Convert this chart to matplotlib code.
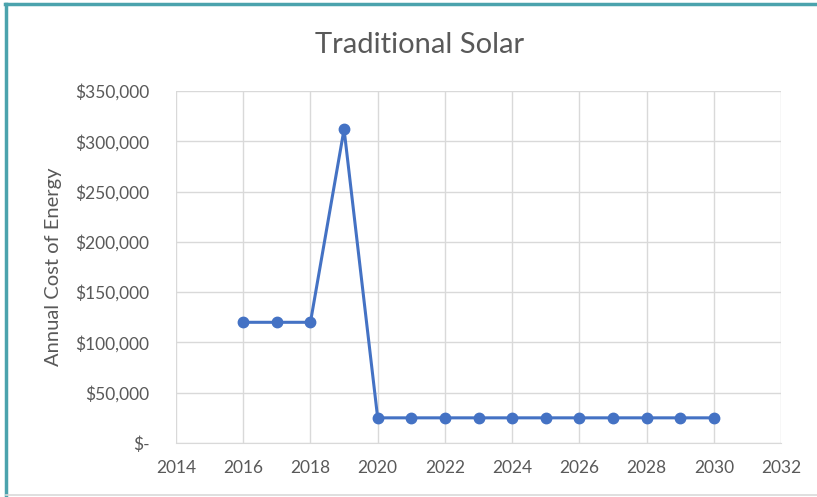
import matplotlib.pyplot as plt
from matplotlib.lines import Line2D
from matplotlib.ticker import FuncFormatter

years = [2016, 2017, 2018, 2019, 2020, 2021, 2022, 2023, 2024, 2025, 2026, 2027, 2028, 2029, 2030]
annual_cost = [120000, 120000, 120000, 312000, 25000, 25000, 25000, 25000,
               25000, 25000, 25000, 25000, 25000, 25000, 25000]
x_ticks = list(range(2014, 2033, 2))
y_ticks = list(range(0, 350001, 50000))

plt.rcParams['font.family'] = ['Lato', 'DejaVu Sans']

fig = plt.figure(figsize=(8.17, 4.97), dpi=100)
ax = fig.add_axes([0.2154, 0.1087, 0.7406, 0.7082])

ax.plot(years, annual_cost, color='#4472C4', linewidth=2.2, marker='o',
        markersize=7.5, zorder=3)

ax.set_xlim(2014, 2032)
ax.set_ylim(0, 350000)
ax.set_xticks(x_ticks)
ax.set_yticks(y_ticks)


def money(v, pos):
    if v == 0:
        return '$-'
    return f'${v:,.0f}'


ax.yaxis.set_major_formatter(FuncFormatter(money))
ax.grid(True, color='#d9d9d9', linewidth=1)
ax.set_axisbelow(True)
for side in ['top', 'right', 'left']:
    ax.spines[side].set_visible(False)
ax.spines['bottom'].set_color('#d9d9d9')
ax.tick_params(length=0, labelsize=12.5, colors='#595959')
ax.tick_params(axis='y', pad=19)
ax.tick_params(axis='x', pad=12)

ax.set_ylabel('Annual Cost of Energy', fontsize=14.5, color='#595959')
ax.yaxis.set_label_coords(-0.188, 0.5)
fig.text(0.513, 0.91, 'Traditional Solar', ha='center', va='center',
         fontsize=21, color='#595959')

# frame around the chart
fig.add_artist(Line2D([0.006, 1.0], [0.991, 0.991], color='#4BA3AD', linewidth=2.5))
fig.add_artist(Line2D([0.007, 0.007], [0.005, 0.991], color='#4BA3AD', linewidth=2.5))
fig.add_artist(Line2D([0.007, 1.0], [0.004, 0.004], color='#d9d9d9', linewidth=1.2))

fig.savefig('out.png', dpi=100)
